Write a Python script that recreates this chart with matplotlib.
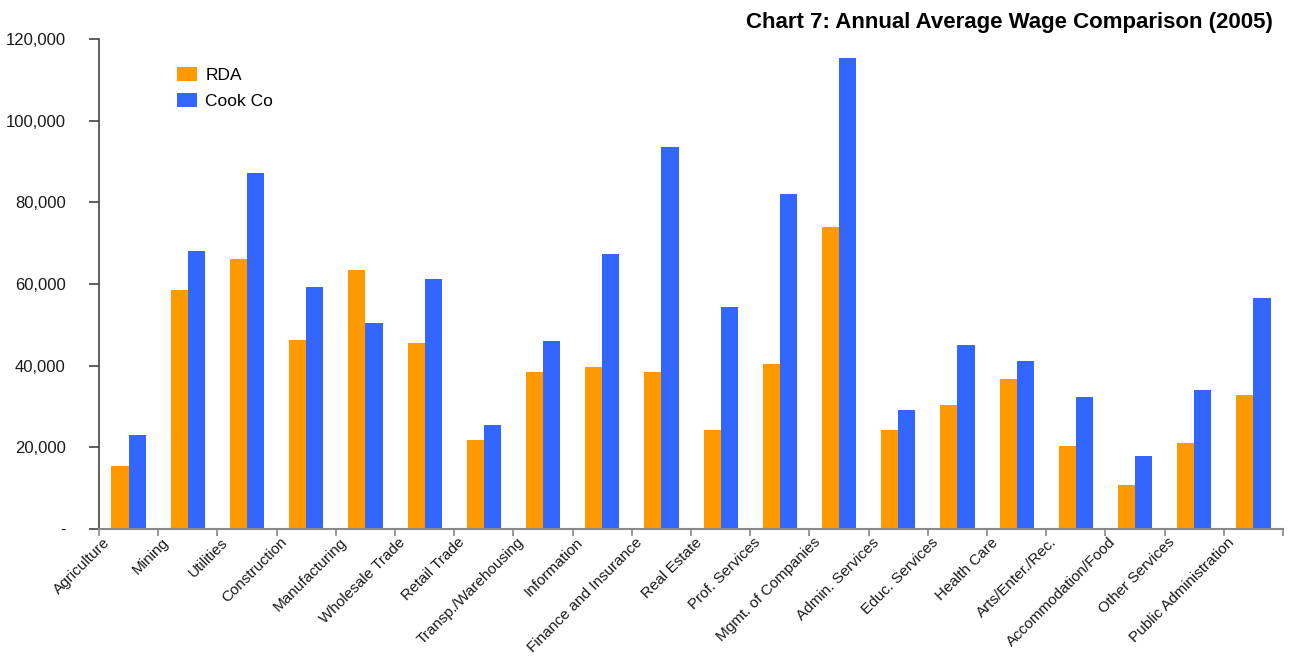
import matplotlib.pyplot as plt
import numpy as np
from matplotlib.ticker import FuncFormatter

industries = [
    "Agriculture", "Mining", "Utilities", "Construction", "Manufacturing",
    "Wholesale Trade", "Retail Trade", "Transp./Warehousing", "Information",
    "Finance and Insurance", "Real Estate", "Prof. Services",
    "Mgmt. of Companies", "Admin. Services", "Educ. Services", "Health Care",
    "Arts/Enter./Rec.", "Accommodation/Food", "Other Services",
    "Public Administration",
]
rda = [15500, 58600, 66100, 46300, 63400, 45600, 21800, 38500, 39700, 38500,
       24300, 40400, 74000, 24300, 30400, 36800, 20400, 10800, 21100, 32800]
cook_co = [23000, 68100, 87200, 59300, 50400, 61200, 25500, 46000, 67400, 93600,
           54400, 82100, 115400, 29200, 45100, 41200, 32400, 17900, 34100, 56500]

ORANGE = "#FF9900"
BLUE = "#3366FF"

plt.rcParams["font.family"] = ["Liberation Sans", "DejaVu Sans"]

fig = plt.figure(figsize=(13, 6.56), dpi=100)
ax = fig.add_axes([0.0762, 0.1936, 0.9108, 0.7469])

x = np.arange(len(industries))
w = 0.29
ax.bar(x - w / 2, rda, w, color=ORANGE, label="RDA")
ax.bar(x + w / 2, cook_co, w, color=BLUE, label="Cook Co")

ax.set_xlim(-0.5, len(industries) - 0.5)
ax.set_ylim(0, 120000)
ax.set_yticks(np.arange(0, 120001, 20000))
ax.yaxis.set_major_formatter(
    FuncFormatter(lambda v, _: "-" if v == 0 else f"{v:,.0f}"))
ax.tick_params(axis="y", direction="out", length=7, width=1.2,
               colors="#444444", labelcolor="#1a1a1a", labelsize=12, pad=17)

# tick marks at category boundaries, labels offset to the left of each group
ax.set_xticks(np.arange(len(industries) + 1) - 0.5)
ax.set_xticklabels([])
ax.tick_params(axis="x", which="major", direction="out", length=5,
               width=1.2, colors="#888888")
ax.set_xticks(x - 0.36, minor=True)
ax.set_xticklabels(industries, minor=True, rotation=45, ha="right",
                   va="center", rotation_mode="anchor", fontsize=11,
                   color="#1a1a1a")
ax.tick_params(axis="x", which="minor", length=0, pad=8)

for side in ["top", "right"]:
    ax.spines[side].set_visible(False)
ax.spines["left"].set_color("#444444")
ax.spines["left"].set_linewidth(1.2)
ax.spines["bottom"].set_color("#888888")
ax.spines["bottom"].set_linewidth(1.5)

ax.legend(loc="upper left", bbox_to_anchor=(0.053, 0.975), frameon=False,
          fontsize=12.5, handlelength=1.1, handleheight=0.9,
          handletextpad=0.5, labelspacing=0.55)

fig.text(0.979, 0.966, "Chart 7: Annual Average Wage Comparison (2005)",
         ha="right", va="center", fontsize=16, fontweight="bold")

fig.savefig("out.png", dpi=100)
